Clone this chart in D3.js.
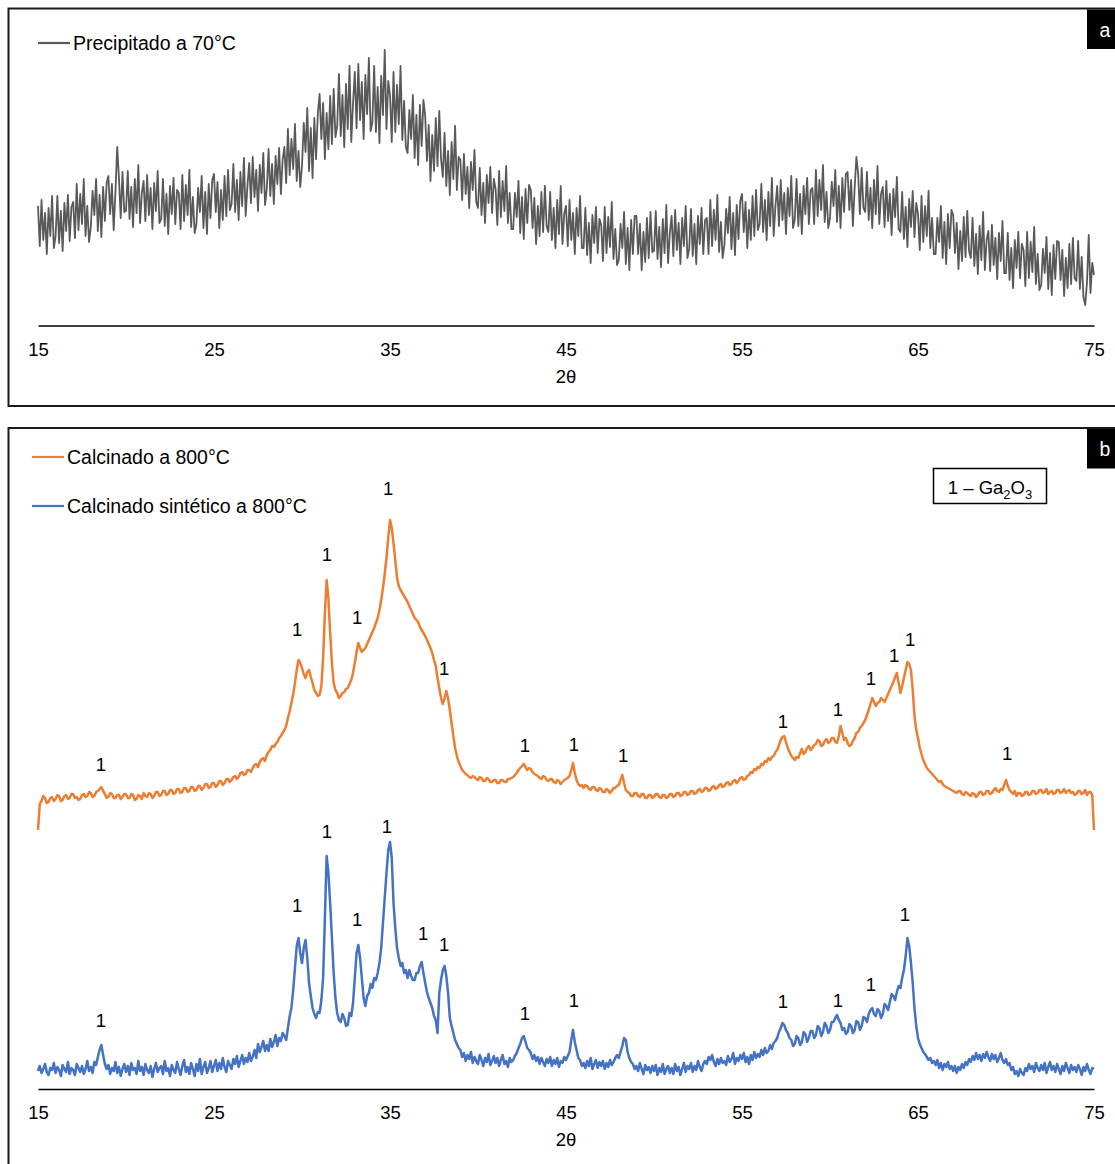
<!DOCTYPE html>
<html>
<head>
<meta charset="utf-8">
<script src="https://cdn.jsdelivr.net/npm/d3@7"></script>
<style>
  body { margin: 0; background: #fff; }
  svg { display: block; }
  text { font-family: "Liberation Sans", Arial, sans-serif; fill: #000; }
</style>
</head>
<body>
<svg id="chart" width="1115" height="1164"></svg>
<script>
// ---- 2θ axis ----
const tickValues = [15, 25, 35, 45, 55, 65, 75];
const thetaMin = 15, thetaMax = 75;

// ---- (a) precipitate dried at 70 °C, scan step 0.1° ----
const stepA = 0.1;
const precipitado = [
  119,79,125,85,112,71,117,89,129,77,
  89,129,82,114,74,122,94,130,84,118,
  123,87,141,95,131,101,146,89,119,83,
  98,134,110,146,94,130,88,138,104,142,
  149,111,141,95,133,178,147,107,153,113,
  114,154,106,138,98,146,112,160,102,132,
  144,104,150,110,137,96,142,114,154,102,
  106,146,99,131,91,139,111,147,101,135,
  132,96,150,104,140,110,155,98,128,92,
  101,137,113,149,97,133,91,141,107,145,
  151,113,143,97,135,105,149,109,155,115,
  121,161,113,145,105,153,119,167,109,139,
  162,122,168,128,155,114,160,132,172,120,
  136,176,129,161,121,169,141,177,131,165,
  178,142,196,150,186,156,201,144,174,138,
  159,202,173,217,154,197,147,207,166,212,
  231,186,222,166,212,176,229,181,236,188,
  199,251,189,230,178,241,196,259,183,222,
  253,197,261,205,243,186,250,211,267,194,
  203,259,193,238,182,249,210,275,196,244,
  230,183,253,193,240,201,259,185,224,178,
  172,215,186,230,167,210,160,220,179,225,
  209,164,200,144,190,154,207,159,214,166,
  148,192,139,174,130,183,146,199,135,168,
  165,125,171,131,158,117,163,135,175,123,
  117,157,110,142,102,150,122,158,112,146,
  136,100,154,108,144,114,159,102,132,96,
  96,132,108,144,92,128,86,136,102,140,
  135,97,127,81,119,89,133,93,139,99,
  93,133,85,117,77,125,91,139,81,111,
  119,79,125,85,112,71,117,89,129,77,
  77,117,70,102,62,110,82,118,72,106,
  100,64,118,72,108,78,123,66,96,60,
  65,101,77,113,61,97,55,105,71,109,
  109,71,101,55,93,63,107,67,113,73,
  74,114,66,98,58,106,72,120,62,92,
  109,69,115,75,102,61,107,79,119,67,
  76,116,69,101,61,109,81,117,71,105,
  107,71,125,79,115,85,130,73,103,67,
  80,116,92,128,76,112,70,120,86,124,
  131,93,123,77,115,85,129,89,135,95,
  101,141,93,125,85,133,99,147,89,119,
  139,99,145,105,132,91,137,109,149,97,
  106,146,99,131,91,139,111,147,101,135,
  137,101,155,109,145,115,160,103,133,97,
  107,143,119,155,103,139,97,147,113,151,
  153,115,145,99,137,168,151,111,157,117,
  113,153,105,137,97,145,111,159,101,131,
  138,98,144,104,131,90,136,108,148,96,
  93,133,86,118,78,126,98,134,88,122,
  111,75,129,83,119,89,134,77,107,71,
  71,107,83,119,67,103,61,111,77,115,
  110,72,102,56,94,64,108,68,114,74,
  67,107,59,91,51,99,65,113,55,85,
  94,54,100,60,87,46,92,64,104,52,
  52,92,45,77,37,85,57,93,47,81,
  75,39,93,47,83,53,98,41,71,35,
  40,76,52,88,36,72,30,80,46,84,
  83,45,75,29,67,37,81,41,87,47,
  44,84,36,68,28,20,42,90,32,62,
  50
];

// ---- (b) calcined samples, scan step 0.1° (orange trace carries its own offset) ----
const stepB = 0.1;
const calcinado = [
  258,284,287,292,290,285,286,290,291,287,
  289,293,292,287,288,292,293,289,290,294,
  294,290,291,288,289,293,294,291,292,296,
  295,291,292,296,297,299,301,297,294,290,
  291,295,294,290,290,293,293,289,291,294,
  294,290,290,294,293,288,289,293,292,289,
  295,292,291,295,294,290,292,296,296,292,
  293,297,297,293,294,298,298,294,295,299,
  299,295,296,300,300,296,297,301,301,297,
  298,302,302,298,300,304,304,300,301,305,
  305,301,303,307,307,303,305,309,309,306,
  308,311,312,309,311,315,316,313,314,318,
  318,316,320,323,324,321,326,329,330,327,
  333,336,338,342,341,344,346,350,352,355,
  358,362,370,377,385,394,405,418,428,425,
  420,414,410,416,418,411,405,398,395,392,
  393,402,430,475,508,490,455,425,405,398,
  395,390,392,395,396,399,400,404,408,415,
  425,436,445,440,436,438,440,444,448,452,
  456,460,465,470,478,488,500,514,530,550,
  568,560,545,528,510,502,498,495,492,489,
  486,482,478,474,470,468,466,461,458,455,
  452,448,444,440,435,428,422,410,400,390,
  384,390,397,390,378,365,352,340,332,326,
  322,318,316,314,313,311,310,312,311,309,
  308,311,310,307,307,310,309,306,306,308,
  308,305,305,308,308,306,306,309,309,310,
  311,313,315,318,320,322,324,321,318,320,
  319,316,314,313,312,310,309,312,311,308,
  307,309,309,306,305,308,307,304,306,308,
  309,310,312,318,325,315,308,304,302,303,
  300,303,302,299,298,301,301,298,297,300,
  299,296,296,299,298,295,297,300,300,302,
  303,308,313,305,298,296,295,292,292,295,
  295,292,291,294,294,290,290,293,293,290,
  291,294,294,291,290,293,293,290,291,294,
  294,291,292,295,295,292,293,296,296,293,
  294,297,297,294,295,298,299,296,297,300,
  300,297,298,301,302,299,300,303,304,301,
  302,305,306,303,304,307,308,305,307,310,
  311,308,309,312,313,316,315,319,318,321,
  320,324,323,327,326,330,328,331,332,336,
  338,343,348,351,352,346,340,336,332,330,
  328,331,330,335,339,334,336,340,342,338,
  340,343,344,348,347,342,343,347,349,345,
  346,350,350,346,345,352,362,355,348,350,
  345,342,343,347,350,355,356,360,362,365,
  368,373,378,384,390,386,382,385,386,390,
  388,386,390,394,398,402,406,411,415,405,
  395,402,410,418,426,424,418,398,372,358,
  350,340,334,328,324,320,318,316,314,312,
  310,308,306,307,304,302,301,300,299,298,
  297,296,295,297,297,294,293,296,295,293,
  292,295,294,291,293,296,296,293,294,297,
  297,294,295,298,300,297,296,299,298,303,
  308,302,298,296,294,297,292,295,295,292,
  293,296,296,293,294,297,297,294,295,298,
  298,295,296,299,294,296,297,294,295,298,
  298,295,296,299,295,297,298,295,296,293,
  294,297,297,294,295,298,293,296,296,293,
  258
];
const sintetico = [
  17,22,15,19,24,16,13,20,18,25,
  15,21,18,12,23,19,16,26,14,20,
  18,13,24,20,16,22,14,19,27,17,
  21,15,26,23,31,38,43,33,24,19,
  23,14,20,17,26,15,21,12,19,24,
  16,22,13,25,18,20,14,27,17,21,
  13,24,18,15,22,11,19,25,16,20,
  22,14,27,17,20,12,23,18,15,26,
  19,13,22,28,16,21,14,25,19,12,
  24,17,29,14,21,26,15,20,27,16,
  22,28,17,25,19,30,21,16,27,23,
  19,29,24,32,21,27,33,24,30,26,
  35,27,31,38,30,44,36,41,47,37,
  43,37,49,41,46,53,42,50,47,55,
  52,48,60,72,80,98,120,142,150,135,
  125,140,148,130,105,92,80,74,70,76,
  75,88,110,170,232,215,185,150,115,90,
  75,68,66,74,70,62,63,75,72,85,
  110,135,143,130,110,90,82,92,95,104,
  100,110,108,115,125,140,165,190,215,238,
  246,230,185,160,140,130,122,125,115,118,
  110,118,112,108,108,115,115,122,126,115,
  105,96,90,85,80,72,68,55,95,108,
  118,122,112,95,70,62,55,48,44,40,
  38,31,35,27,33,29,36,25,31,27,
  24,33,28,22,30,26,34,23,27,32,
  25,30,22,28,33,24,27,21,30,26,
  28,32,35,40,44,50,52,46,40,38,
  35,29,33,27,31,24,30,26,22,29,
  25,31,22,28,24,30,21,27,25,31,
  28,32,36,48,58,46,38,30,28,22,
  25,20,27,22,30,19,24,28,20,26,
  22,27,19,25,21,28,23,26,30,33,
  30,36,42,50,48,36,30,26,24,19,
  22,17,25,19,14,23,18,21,15,22,
  17,23,13,20,16,24,14,19,22,15,
  20,14,24,17,21,13,19,25,16,22,
  19,25,16,22,18,27,21,17,24,27,
  24,31,28,33,26,22,29,24,30,25,
  27,23,32,26,29,35,24,30,27,33,
  29,35,26,31,24,33,28,36,30,34,
  31,38,33,40,35,37,43,39,45,47,
  50,56,60,65,63,58,55,50,48,42,
  44,52,50,43,46,56,54,46,50,57,
  57,50,53,62,60,52,56,65,62,55,
  58,66,66,70,73,68,65,58,60,54,
  56,64,62,55,58,67,66,58,62,71,
  70,66,74,78,80,74,72,79,77,70,
  74,84,82,78,86,94,92,88,96,102,
  100,110,118,132,150,142,125,105,80,62,
  50,44,40,36,34,31,28,30,25,27,
  23,28,20,25,18,24,21,26,19,22,
  17,22,15,21,18,24,20,26,23,29,
  26,32,28,35,29,33,27,34,30,36,
  31,27,34,29,33,26,30,35,28,25,
  29,23,25,18,21,14,17,12,19,15,
  13,20,17,24,19,22,16,25,20,17,
  23,18,25,15,21,26,18,22,16,24,
  19,14,22,17,25,20,15,23,18,21,
  16,23,19,13,21,17,24,18,14,20,
  19
];

// Ga2O3 reflections marked with "1" (2θ position, label height in intensity units)
const markTheta1 = [18.58, 29.72, 31.42, 33.13, 34.89, 38.07, 42.67, 45.45, 48.24, 57.33, 60.45, 62.33, 63.64, 64.55, 70.06];
const markLevel1 = [324, 459, 534, 471, 600, 420, 343, 344, 333, 367, 379, 410, 433, 449, 335];
const markTheta2 = [18.58, 29.72, 31.42, 33.13, 34.83, 36.88, 38.07, 42.67, 45.45, 57.33, 60.45, 62.33, 64.26];
const markLevel2 = [68, 183, 257, 169, 262, 155, 144, 75, 88, 87, 88, 104, 174];

const seriesNames = ["Precipitado a 70°C", "Calcinado a 800°C", "Calcinado sintético a 800°C"];
const colors = { gray: "#595959", orange: "#ED7D31", blue: "#4472C4" };

const svg = d3.select("#chart");
const x = d3.scaleLinear().domain([thetaMin, thetaMax]).range([38, 1094]);
const yA = d3.scaleLinear().domain([0, 280]).range([325, 45]);
const yB = d3.scaleLinear().domain([0, 600]).range([1088, 488]);

function panelFrame(top, bottom, letter) {
  svg.append("rect")
    .attr("x", 8.5).attr("y", top)
    .attr("width", 1120).attr("height", bottom - top)
    .attr("fill", "none").attr("stroke", "#1a1a1a").attr("stroke-width", 2);
  svg.append("rect")
    .attr("x", 1087).attr("y", top + 1)
    .attr("width", 40).attr("height", 39.5)
    .attr("fill", "#000");
  svg.append("text")
    .attr("x", 1105).attr("y", top + 28)
    .attr("text-anchor", "middle")
    .style("font-size", "19.5px").style("fill", "#fff")
    .text(letter);
}

function bottomAxis(yPos) {
  const g = svg.append("g")
    .attr("transform", `translate(0,${yPos})`)
    .call(d3.axisBottom(x).tickValues(tickValues).tickSize(0).tickSizeOuter(0).tickPadding(17)
      .tickFormat(d3.format("d")));
  g.select(".domain").attr("stroke", "#000").attr("stroke-width", 1.6);
  g.selectAll(".tick text")
    .style("font-family", '"Liberation Sans", Arial, sans-serif')
    .style("font-size", "18.5px").attr("fill", "#000");
  svg.append("text")
    .attr("x", x(45)).attr("y", yPos + 57)
    .attr("text-anchor", "middle")
    .style("font-size", "18.5px")
    .text("2θ");
}

function trace(values, start, step, yScale, color, width) {
  const line = d3.line()
    .x((d, i) => x(start + i * step))
    .y(d => yScale(d));
  svg.append("path")
    .datum(values)
    .attr("d", line)
    .attr("fill", "none")
    .attr("stroke", color)
    .attr("stroke-width", width)
    .attr("stroke-linejoin", "round");
}

function legendEntry(x0, yLine, color, label) {
  svg.append("line")
    .attr("x1", x0).attr("x2", x0 + 32)
    .attr("y1", yLine).attr("y2", yLine)
    .attr("stroke", color).attr("stroke-width", 2.2);
  svg.append("text")
    .attr("x", x0 + 35).attr("y", yLine + 7)
    .style("font-size", "19.5px")
    .text(label);
}

function markers(thetas, levels, yScale) {
  svg.append("g").selectAll("text")
    .data(thetas)
    .join("text")
    .attr("x", d => x(d))
    .attr("y", (d, i) => yScale(levels[i]) + 7)
    .attr("text-anchor", "middle")
    .style("font-size", "18.5px")
    .text("1");
}

// ---- panel (a) ----
panelFrame(8.5, 406, "a");
trace(precipitado, thetaMin, stepA, yA, colors.gray, 1.8);
bottomAxis(325.5);
legendEntry(38, 43, colors.gray, seriesNames[0]);

// ---- panel (b) ----
panelFrame(428, 1200, "b");
trace(calcinado, thetaMin, stepB, yB, colors.orange, 2.5);
trace(sintetico, thetaMin, stepB, yB, colors.blue, 2.5);
bottomAxis(1089);
legendEntry(32, 457, colors.orange, seriesNames[1]);
legendEntry(32, 506, colors.blue, seriesNames[2]);
markers(markTheta1, markLevel1, yB);
markers(markTheta2, markLevel2, yB);

// phase key box
const key = svg.append("g");
key.append("rect")
  .attr("x", 933.5).attr("y", 468.5)
  .attr("width", 113).attr("height", 35)
  .attr("fill", "#fff").attr("stroke", "#000").attr("stroke-width", 1.5);
const keyText = key.append("text")
  .attr("x", 990).attr("y", 494)
  .attr("text-anchor", "middle")
  .style("font-size", "18.5px");
keyText.append("tspan").text("1 – Ga");
keyText.append("tspan").attr("dy", 5).style("font-size", "13px").text("2");
keyText.append("tspan").attr("dy", -5).text("O");
keyText.append("tspan").attr("dy", 5).style("font-size", "13px").text("3");
</script>
</body>
</html>
